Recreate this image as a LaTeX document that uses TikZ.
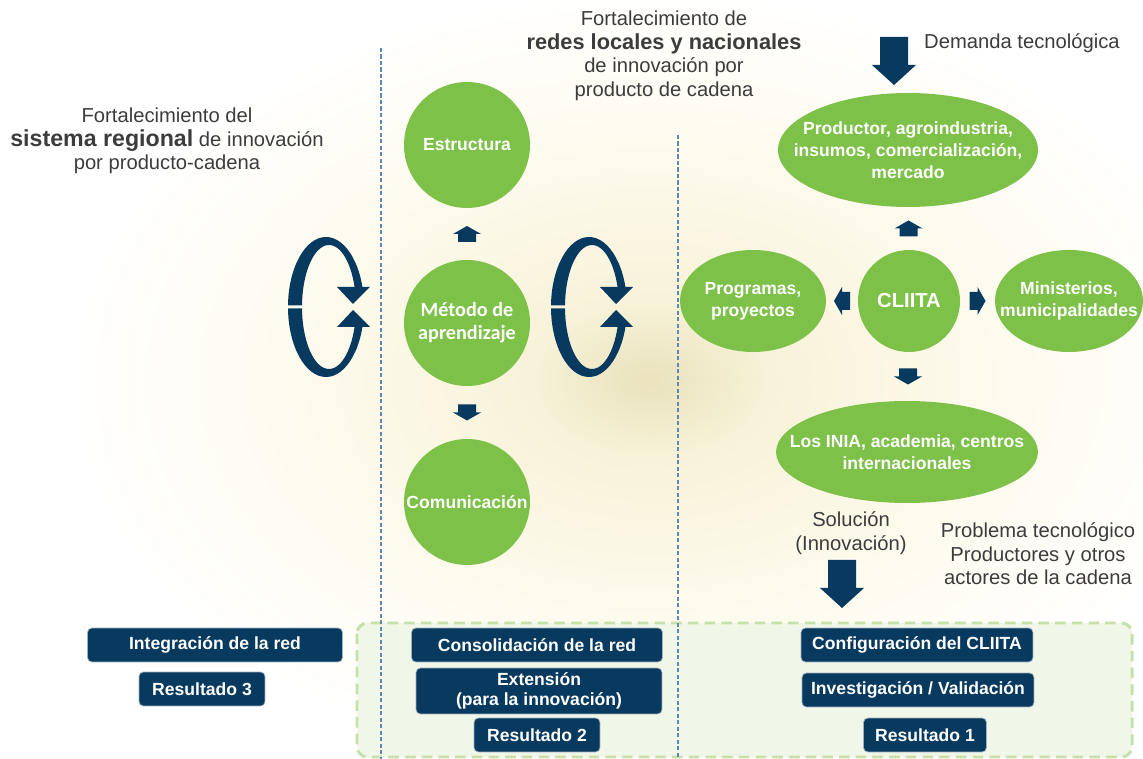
\documentclass[tikz,border=0pt]{standalone}
\usepackage{fontspec}
\setmainfont{Liberation Sans}
\newfontfamily\carlito{Carlito}
\usepackage{tikz}
\usetikzlibrary{shapes.geometric,calc}
\definecolor{verde}{RGB}{125,193,72}
\definecolor{azul}{RGB}{8,58,96}
\definecolor{gris}{RGB}{60,60,60}
\definecolor{linea}{RGB}{95,135,180}
\definecolor{verdeclaro}{RGB}{240,246,232}
\definecolor{verdeborde}{RGB}{198,224,170}
\definecolor{fondoA}{RGB}{253,250,236}
\definecolor{fondoB}{RGB}{247,242,216}
\definecolor{fondoC}{RGB}{233,226,188}
\pgfdeclareradialshading{brillo}{\pgfpoint{0bp}{0bp}}{color(0bp)=(fondoC); color(5bp)=(fondoB); color(14bp)=(fondoA); color(25bp)=(white); color(50bp)=(white)}
\tikzset{
  circulo/.style={circle, fill=verde, minimum size=2.52cm, inner sep=0pt, text=white, align=center,
    font=\bfseries\fontsize{10}{12}\selectfont},
  elipse/.style={ellipse, fill=verde, inner sep=0pt},
  blanco/.style={text=white, align=center, font=\bfseries\fontsize{10}{12.5}\selectfont},
  caja/.style={rectangle, rounded corners=2.5pt, fill=azul, draw=azul!40, line width=0.4pt, text=white,
    align=center, minimum height=0.68cm, inner sep=0pt, font=\bfseries\fontsize{10}{11}\selectfont},
  titulo/.style={text=gris, align=center, font=\fontsize{11.5}{13.4}\selectfont},
  division/.style={linea, dash pattern=on 2.5pt off 1.2pt, line width=0.8pt},
  flechita/.pic={\fill[azul] (-9,-8) -- (9,-8) -- (9,0) -- (14,0) -- (0,8) -- (-14,0) -- (-9,0) -- cycle;},
  flechota/.pic={\fill[azul] (-14,-24) -- (14,-24) -- (14,4) -- (22,4) -- (0,24) -- (-22,4) -- (-14,4) -- cycle;},
  ciclo/.pic={
    \begin{scope}
      \clip (-50,-80) -- (50,-80) -- (50,-20) -- (0,-20) -- (0,-1.5) -- (-50,-1.5) -- cycle
            (-50,1.5) -- (0,1.5) -- (0,20) -- (50,20) -- (50,80) -- (-50,80) -- cycle;
      \fill[azul, even odd rule] (0,0) ellipse (38 and 70) (3,0) ellipse (27 and 62);
    \end{scope}
    \fill[azul] (11,-20) -- (44,-20) -- (27,-3) -- cycle;
    \fill[azul] (11,20) -- (44,20) -- (27,3) -- cycle;
  }
}

\begin{document}
\begin{tikzpicture}[x=0.02cm, y=-0.02cm]
    \useasboundingbox (0,0) rectangle (1143,759);
    \shade[shading=brillo] (650,380) ellipse (580 and 390);

    \draw[verdeborde, fill=verdeclaro, line width=1.7pt, dash pattern=on 6pt off 3.5pt, rounded corners=6pt]
        (357,623) rectangle (1132,757);
    \draw[division] (381,48) -- (381,759);
    \draw[division] (678,135) -- (678,759);

    \node[titulo] (tit1) at (167,141) {Fortalecimiento del\\{\fontsize{13.2}{13.4}\selectfont\bfseries sistema regional} de innovación\\por producto-cadena};
    \node[titulo] (tit2) at (664,56) {Fortalecimiento de\\{\fontsize{12.4}{13.4}\selectfont\bfseries redes locales y nacionales}\\de innovación por\\producto de cadena};

    \begin{scope}
        \node[circulo] (est) at (467,145) {Estructura};
        \node[circulo, font=\carlito\bfseries\fontsize{11.5}{13}\selectfont] (met) at (467,323) {Método de\\aprendizaje};
        \node[circulo] (com) at (467,502) {Comunicación};
        \pic[rotate=180] at ($(met.north)!0.5!(est.south)$) {flechita};
        \pic at ($(met.south)!0.5!(com.north)$) {flechita};
        \pic at (326,307) {ciclo};
        \pic at (589,307) {ciclo};
    \end{scope}

    \begin{scope}
        \node[circulo, minimum size=2.04cm, font=\bfseries\fontsize{11.5}{13}\selectfont] (cliita) at (909,301) {CLIITA};
        \node[elipse, minimum width=5.2cm, minimum height=2.28cm,
            label={[blanco]center:Productor, agroindustria,\\insumos, comercialización,\\mercado}] (prod) at (908,150) {};
        \node[elipse, minimum width=2.92cm, minimum height=2.04cm,
            label={[blanco]center:Programas,\\proyectos}] (prog) at (753,301) {};
        \node[elipse, minimum width=2.96cm, minimum height=2.04cm,
            label={[blanco]center:Ministerios,\\municipalidades}] (mini) at (1069,301) {};
        \node[elipse, minimum width=5.24cm, minimum height=2.04cm,
            label={[blanco]center:Los INIA, academia, centros\\internacionales}] (inia) at (907,452) {};
        \pic[rotate=180] at ($(cliita.north)!0.5!(prod.south)$) {flechita};
        \pic at ($(cliita.south)!0.5!(inia.north)$) {flechita};
        \pic[rotate=-90] at ($(cliita.west)!0.5!(prog.east)$) {flechita};
        \pic[rotate=90] at ($(cliita.east)!0.5!(mini.west)$) {flechita};
    \end{scope}

    \pic at (894,61) {flechota};
    \node[titulo, anchor=west] (demanda) at (918,43) {Demanda tecnológica};
    \node[titulo] (solucion) at (851,533) {Solución\\(Innovación)};
    \pic at (842,584) {flechota};
    \node[titulo] (problema) at (1038,554) {Problema tecnológico\\Productores y otros\\actores de la cadena};

    \node[caja, minimum width=5.1cm] (integ) at (215,645) {Integración de la red};
    \node[caja, minimum width=2.52cm] (res3) at (202,689) {Resultado 3};
    \node[caja, minimum width=5.02cm] (conso) at (537,645) {Consolidación de la red};
    \node[caja, minimum width=4.92cm, minimum height=0.92cm] (ext) at (539,691) {Extensión\\(para la innovación)};
    \node[caja, minimum width=2.52cm] (res2) at (537,735) {Resultado 2};
    \node[caja, minimum width=4.64cm] (config) at (917,645) {Configuración del CLIITA};
    \node[caja, minimum width=4.64cm] (inves) at (918,690) {Investigación / Validación};
    \node[caja, minimum width=2.46cm] (res1) at (925,735) {Resultado 1};
\end{tikzpicture}
\end{document}
